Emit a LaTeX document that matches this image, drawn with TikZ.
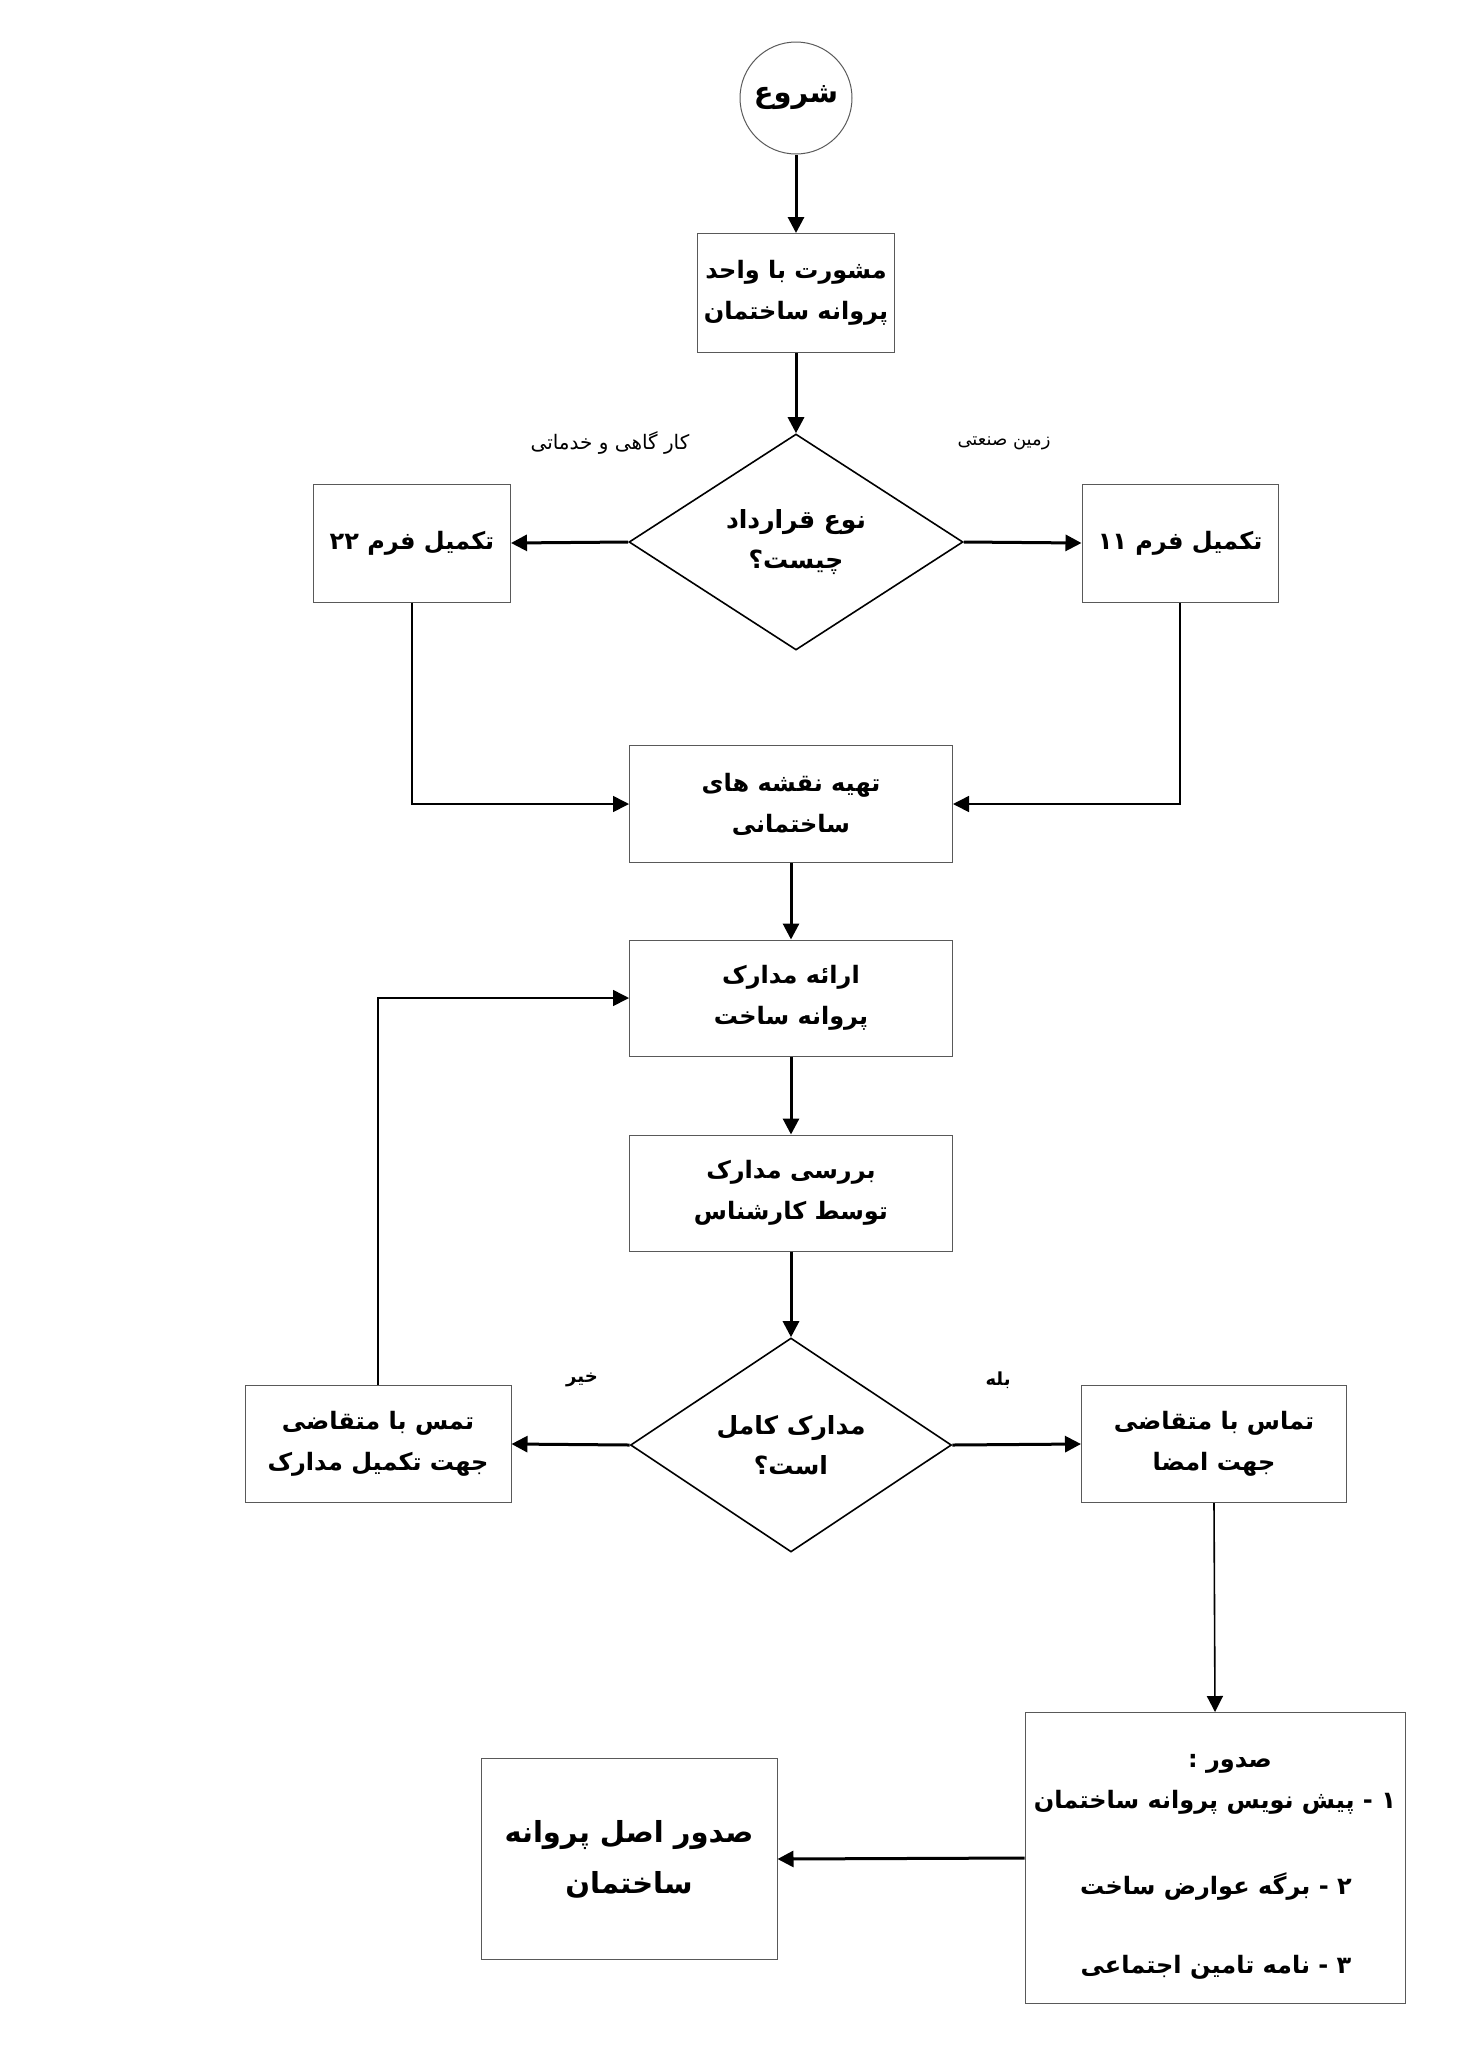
\documentclass[tikz,border=0pt]{standalone}
\usepackage{fontspec}
\usetikzlibrary{arrows.meta,shapes.geometric}
\TeXXeTstate=1
\newfontfamily\fafont[Script=Arabic]{DejaVu Sans}
\newcommand\fa[1]{\beginR #1\endR}
\begin{document}
\begin{tikzpicture}[x=0.5pt,y=-0.5pt,
  wh/.style 2 args={minimum width=#1*0.5pt, minimum height=#2*0.5pt},
  box/.style={draw=black!65, line width=0.5pt, fill=white, inner sep=0pt, align=center,
    font=\fafont\bfseries\fontsize{12}{20.5}\selectfont},
  dia/.style={diamond, aspect=1.5, draw=black, line width=0.8pt, inner sep=0pt, align=center,
    font=\fafont\bfseries\fontsize{12.5}{20}\selectfont},
  lbl/.style={font=\fafont\fontsize{9}{11}\selectfont, inner sep=0pt},
  blbl/.style={font=\fafont\bfseries\fontsize{9}{11}\selectfont, inner sep=0pt},
  txt/.style={font=\fafont\bfseries\fontsize{12}{20}\selectfont, inner sep=0pt},
  arr/.style={line width=1.5pt, -{Triangle[length=8pt,width=8pt]}},
  tarr/.style={line width=0.8pt, -{Triangle[length=8pt,width=8pt]}},
  tline/.style={line width=0.8pt}]
\useasboundingbox (0,0) rectangle (1472,2067);
% nodes
\node[circle, draw=black!65, line width=0.5pt, minimum size=56pt, inner sep=0pt,
  font=\fafont\bfseries\fontsize{14.5}{18}\selectfont] (start) at (796,98) {\fa{شروع}};
\node[box, wh={197}{119}] (b1) at (796,293) {\fa{مشورت با واحد}\\\fa{پروانه ساختمان}};
\node[dia, wh={334}{216}] (d1) at (796,542) {\fa{نوع قرارداد}\\\fa{چیست؟}};
\node[box, wh={197}{118}] (f22) at (412,543) {\fa{تکمیل فرم ۲۲}};
\node[box, wh={196}{118}] (f11) at (1180,543) {\fa{تکمیل فرم ۱۱}};
\node[lbl, font=\fafont\fontsize{10}{12}\selectfont] (l1) at (610,443) {\fa{کار گاهی و خدماتی}};
\node[lbl] (l2) at (1004,443) {\fa{زمین صنعتی}};
\node[box, wh={323}{117}] (b2) at (791,804) {\fa{تهیه نقشه های}\\\fa{ساختمانی}};
\node[box, wh={323}{116}] (b3) at (791,998) {\fa{ارائه مدارک}\\\fa{پروانه ساخت}};
\node[box, wh={323}{116}] (b4) at (791,1193) {\fa{بررسی مدارک}\\\fa{توسط کارشناس}};
\node[dia, wh={321}{214}] (d2) at (791,1445) {\fa{مدارک کامل}\\\fa{است؟}};
\node[box, wh={266}{117}] (bn) at (378,1444) {\fa{تمس با متقاضی}\\\fa{جهت تکمیل مدارک}};
\node[box, wh={265}{117}] (by) at (1214,1444) {\fa{تماس با متقاضی}\\\fa{جهت امضا}};
\node[blbl] (l3) at (582,1380) {\fa{خیر}};
\node[blbl] (l4) at (998,1380) {\fa{بله}};
\node[box, wh={380}{291}] (bs) at (1215,1858) {};
\node[txt] (s0) at (1230,1764) {\fa{صدور :}};
\node[txt] (s1) at (1215,1802) {\fa{۱ - پیش نویس پروانه ساختمان}};
\node[txt] (s2) at (1216,1886) {\fa{۲ - برگه عوارض ساخت}};
\node[txt] (s3) at (1216,1967) {\fa{۳ -  نامه تامین اجتماعی}};
\node[box, wh={296}{201}, font=\fafont\bfseries\fontsize{14.5}{25.5}\selectfont] (bf) at (629,1859)
  {\fa{صدور اصل پروانه}\\\fa{ساختمان}};
% connectors
\draw[arr] (start) -- (b1);
\draw[arr] (b1) -- (d1.north);
\draw[arr] (d1.west) -- (f22.east);
\draw[arr] (d1.east) -- (f11.west);
\draw[tarr] (f22.south) |- (b2.west);
\draw[tarr] (f11.south) |- (b2.east);
\draw[arr] (b2) -- (b3);
\draw[arr] (b3) -- (b4);
\draw[arr] (b4) -- (d2.north);
\draw[arr] (d2.west) -- (bn.east);
\draw[arr] (d2.east) -- (by.west);
\draw[tarr] (bn.north) |- (b3.west);
\draw[tarr] (by.south) -- (bs.north);
\draw[arr] (bs.west) -- (bf.east);
\end{tikzpicture}
\end{document}
